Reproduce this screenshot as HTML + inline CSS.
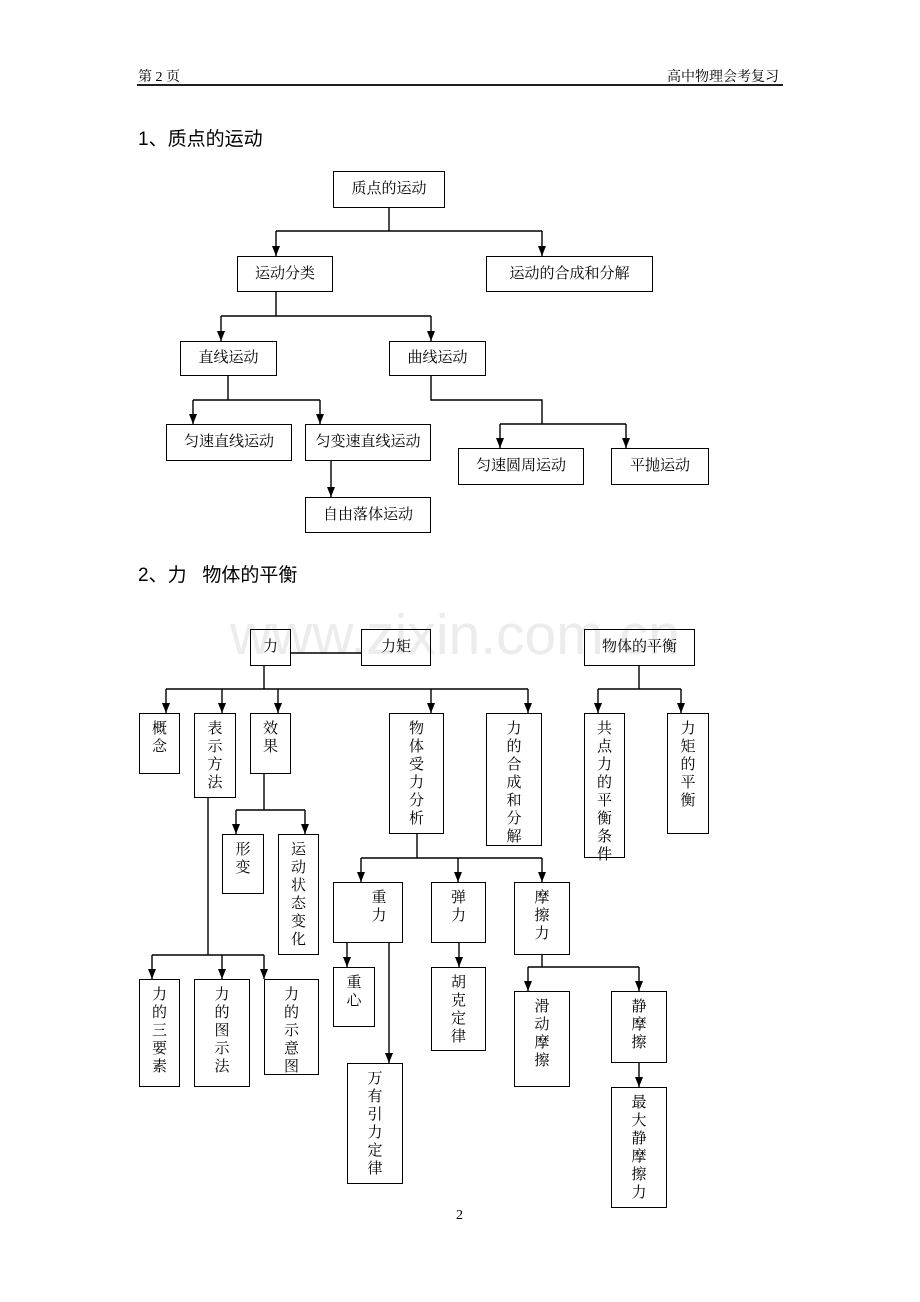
<!DOCTYPE html>
<html><head><meta charset="utf-8"><style>
body{margin:0;background:#fff}
#p{position:relative;width:920px;height:1302px;overflow:hidden;font-family:"Liberation Serif","Noto Serif CJK SC",serif;color:#000}
.b{position:absolute;border:1.4px solid #000;box-sizing:border-box;font-size:15px;text-align:center;background:transparent}
.v{padding-top:6px}
.v span{display:block;width:16px;margin:0 auto;line-height:18px;word-break:break-all}
.t{position:absolute;font-family:"Liberation Sans","Noto Sans CJK SC",sans-serif;font-size:19px}
.h{position:absolute;font-size:14px}
svg{position:absolute;left:0;top:0}
.wm{position:absolute;left:230px;top:602px;font-family:"Liberation Sans",sans-serif;font-size:57px;color:#ececec;letter-spacing:0px}
</style></head><body><div id="p">
<div class="wm">www.zixin.com.cn</div>
<div class="h" style="left:138px;top:66px">第 2 页</div>
<div class="h" style="left:667px;top:66px">高中物理会考复习</div>
<div class="t" style="left:138px;top:124px">1、质点的运动</div>
<div class="t" style="left:138px;top:560px">2、力&nbsp;&nbsp;&nbsp;物体的平衡</div>
<div class="h" style="left:456px;top:1208px">2</div>

<svg width="920" height="1302">
<defs><marker id="a" markerWidth="10" markerHeight="8" refX="10" refY="4" orient="auto" markerUnits="userSpaceOnUse"><path d="M0,0 L10,4 L0,8 Z" fill="#000"/></marker></defs>
<g stroke="#000" stroke-width="1.4" fill="none">
<line x1="137" y1="85" x2="783" y2="85" stroke-width="1.8"/>
<path d="M389,208 V231 M276,231 H542"/>
<line x1="276" y1="231" x2="276" y2="256" marker-end="url(#a)"/>
<line x1="542" y1="231" x2="542" y2="256" marker-end="url(#a)"/>
<path d="M276,292 V316 M221,316 H431"/>
<line x1="221" y1="316" x2="221" y2="341" marker-end="url(#a)"/>
<line x1="431" y1="316" x2="431" y2="341" marker-end="url(#a)"/>
<path d="M228,376 V400 M193,400 H320"/>
<line x1="193" y1="400" x2="193" y2="424" marker-end="url(#a)"/>
<line x1="320" y1="400" x2="320" y2="424" marker-end="url(#a)"/>
<path d="M431,376 V400 H542 V424 M500,424 H626"/>
<line x1="500" y1="424" x2="500" y2="448" marker-end="url(#a)"/>
<line x1="626" y1="424" x2="626" y2="448" marker-end="url(#a)"/>
<line x1="331" y1="461" x2="331" y2="497" marker-end="url(#a)"/>
<path d="M291,653 H361 M264,666 V689 M166,689 H528"/>
<line x1="166" y1="689" x2="166" y2="713" marker-end="url(#a)"/>
<line x1="222" y1="689" x2="222" y2="713" marker-end="url(#a)"/>
<line x1="278" y1="689" x2="278" y2="713" marker-end="url(#a)"/>
<line x1="431" y1="689" x2="431" y2="713" marker-end="url(#a)"/>
<line x1="528" y1="689" x2="528" y2="713" marker-end="url(#a)"/>
<path d="M264,774 V810 M236,810 H305"/>
<line x1="236" y1="810" x2="236" y2="834" marker-end="url(#a)"/>
<line x1="305" y1="810" x2="305" y2="834" marker-end="url(#a)"/>
<path d="M208,798 V955 M152,955 H264"/>
<line x1="152" y1="955" x2="152" y2="979" marker-end="url(#a)"/>
<line x1="222" y1="955" x2="222" y2="979" marker-end="url(#a)"/>
<line x1="264" y1="955" x2="264" y2="979" marker-end="url(#a)"/>
<path d="M417,834 V858 M361,858 H542"/>
<line x1="361" y1="858" x2="361" y2="882" marker-end="url(#a)"/>
<line x1="458" y1="858" x2="458" y2="882" marker-end="url(#a)"/>
<line x1="542" y1="858" x2="542" y2="882" marker-end="url(#a)"/>
<line x1="347" y1="943" x2="347" y2="967" marker-end="url(#a)"/>
<line x1="389" y1="943" x2="389" y2="1063" marker-end="url(#a)"/>
<line x1="459" y1="943" x2="459" y2="967" marker-end="url(#a)"/>
<path d="M542,955 V967 M528,967 H639"/>
<line x1="528" y1="967" x2="528" y2="991" marker-end="url(#a)"/>
<line x1="639" y1="967" x2="639" y2="991" marker-end="url(#a)"/>
<line x1="639" y1="1063" x2="639" y2="1087" marker-end="url(#a)"/>
<path d="M639,666 V689 M598,689 H681"/>
<line x1="598" y1="689" x2="598" y2="713" marker-end="url(#a)"/>
<line x1="681" y1="689" x2="681" y2="713" marker-end="url(#a)"/>
</g></svg>

<div class="b" style="left:333px;top:171px;width:112px;height:37px;line-height:35px">质点的运动</div>
<div class="b" style="left:237px;top:256px;width:96px;height:36px;line-height:34px">运动分类</div>
<div class="b" style="left:486px;top:256px;width:167px;height:36px;line-height:34px">运动的合成和分解</div>
<div class="b" style="left:180px;top:341px;width:97px;height:35px;line-height:33px">直线运动</div>
<div class="b" style="left:389px;top:341px;width:97px;height:35px;line-height:33px">曲线运动</div>
<div class="b" style="left:166px;top:424px;width:126px;height:37px;line-height:35px">匀速直线运动</div>
<div class="b" style="left:305px;top:424px;width:126px;height:37px;line-height:35px">匀变速直线运动</div>
<div class="b" style="left:458px;top:448px;width:126px;height:37px;line-height:35px">匀速圆周运动</div>
<div class="b" style="left:611px;top:448px;width:98px;height:37px;line-height:35px">平抛运动</div>
<div class="b" style="left:305px;top:497px;width:126px;height:36px;line-height:34px">自由落体运动</div>

<div class="b" style="left:250px;top:629px;width:41px;height:37px;line-height:35px">力</div>
<div class="b" style="left:361px;top:629px;width:70px;height:37px;line-height:35px">力矩</div>
<div class="b" style="left:584px;top:629px;width:111px;height:37px;line-height:35px">物体的平衡</div>
<div class="b v" style="left:139px;top:713px;width:41px;height:61px"><span>概念</span></div>
<div class="b v" style="left:194px;top:713px;width:42px;height:85px"><span>表示方法</span></div>
<div class="b v" style="left:250px;top:713px;width:41px;height:61px"><span>效果</span></div>
<div class="b v" style="left:389px;top:713px;width:55px;height:121px"><span>物体受力分析</span></div>
<div class="b v" style="left:486px;top:713px;width:56px;height:133px"><span>力的合成和分解</span></div>
<div class="b v" style="left:584px;top:713px;width:41px;height:145px"><span>共点力的平衡条件</span></div>
<div class="b v" style="left:667px;top:713px;width:42px;height:121px"><span>力矩的平衡</span></div>
<div class="b v" style="left:222px;top:834px;width:42px;height:60px"><span>形变</span></div>
<div class="b v" style="left:278px;top:834px;width:41px;height:121px"><span>运动状态变化</span></div>
<div class="b v" style="left:139px;top:979px;width:41px;height:108px"><span>力的三要素</span></div>
<div class="b v" style="left:194px;top:979px;width:56px;height:108px"><span>力的图示法</span></div>
<div class="b v" style="left:264px;top:979px;width:55px;height:96px"><span>力的示意图</span></div>
<div class="b v" style="left:333px;top:882px;width:70px;height:61px;padding-left:22px"><span>重力</span></div>
<div class="b v" style="left:431px;top:882px;width:55px;height:61px"><span>弹力</span></div>
<div class="b v" style="left:514px;top:882px;width:56px;height:73px"><span>摩擦力</span></div>
<div class="b v" style="left:333px;top:967px;width:42px;height:60px"><span>重心</span></div>
<div class="b v" style="left:347px;top:1063px;width:56px;height:121px"><span>万有引力定律</span></div>
<div class="b v" style="left:431px;top:967px;width:55px;height:84px"><span>胡克定律</span></div>
<div class="b v" style="left:514px;top:991px;width:56px;height:96px"><span>滑动摩擦</span></div>
<div class="b v" style="left:611px;top:991px;width:56px;height:72px"><span>静摩擦</span></div>
<div class="b v" style="left:611px;top:1087px;width:56px;height:121px"><span>最大静摩擦力</span></div>
</div></body></html>
